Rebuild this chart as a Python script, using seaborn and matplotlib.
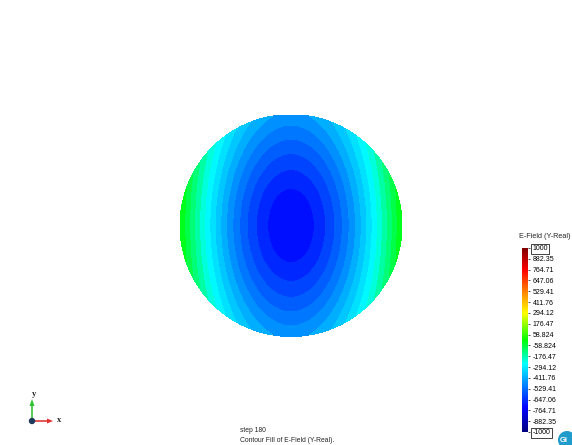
import numpy as np
import matplotlib
matplotlib.use("Agg")
import matplotlib.pyplot as plt
import matplotlib.tri as mtri
from matplotlib.colors import LinearSegmentedColormap, Normalize
from matplotlib.cm import ScalarMappable
from matplotlib.patches import Circle, FancyArrow
import seaborn as sns

# E-Field (Y-Real) on the circular cross-section, step 180.
# Radial profiles from the centre out to the wall, along x and along y.
radius_frac = [0.0, 0.1, 0.2, 0.3, 0.4, 0.5, 0.6, 0.7, 0.8, 0.9, 1.0]
field_along_x = [-730, -719, -686, -640, -581, -507, -421, -324, -220, -111, 0]
field_along_y = [-730, -725, -711, -690, -664, -634, -601, -565, -527, -488, -450]

# Result scale
legend_ticks = [1000, 882.35, 764.71, 647.06, 529.41, 411.76, 294.12, 176.47, 58.824,
                -58.824, -176.47, -294.12, -411.76, -529.41, -647.06, -764.71, -882.35, -1000]
legend_labels = ["1000", "882.35", "764.71", "647.06", "529.41", "411.76", "294.12",
                 "176.47", "58.824", "-58.824", "-176.47", "-294.12", "-411.76",
                 "-529.41", "-647.06", "-764.71", "-882.35", "-1000"]
step_label = "step 180"
view_label = "Contour Fill of E-Field (Y-Real)."
result_name = "E-Field (Y-Real)"

sns.set_style("white")
plt.rcParams["font.family"] = ["Liberation Sans", "DejaVu Sans"]

W, H = 572, 445
fig = plt.figure(figsize=(W / 100, H / 100), dpi=100)
fig.patch.set_facecolor("white")

# rainbow scale: navy - blue - cyan - green - yellow - red - dark red
vmin, vmax = -1000, 1000
nodes = [(-1000, (0.0, 0.0, 0.5)), (-735, (0.0, 0.0, 1.0)), (-260, (0.0, 1.0, 1.0)),
         (0, (0.0, 1.0, 0.0)), (294, (1.0, 1.0, 0.0)), (765, (1.0, 0.0, 0.0)),
         (1000, (0.5, 0.0, 0.0))]
cmap = LinearSegmentedColormap.from_list(
    "gid_rainbow", [((v - vmin) / (vmax - vmin), c) for v, c in nodes])
norm = Normalize(vmin, vmax)

# polar sample points of the section
r = np.array(radius_frac)
fx = np.array(field_along_x, dtype=float)
fy = np.array(field_along_y, dtype=float)
phi = np.linspace(0, 2 * np.pi, 180, endpoint=False)
xs, ys, zs = [0.0], [0.0], [fx[0]]
for ri, ax_v, ay_v in zip(r[1:], fx[1:], fy[1:]):
    xs.extend(ri * np.cos(phi))
    ys.extend(ri * np.sin(phi))
    zs.extend(ax_v * np.cos(phi) ** 2 + ay_v * np.sin(phi) ** 2)
tri = mtri.Triangulation(np.array(xs), np.array(ys))
zs = np.array(zs)

ax = fig.add_axes([180 / W, (H - 336.5) / H, 222 / W, 222 / H])
levels = np.linspace(zs.min(), zs.max(), 16)
ax.tricontourf(tri, zs, levels=levels, cmap=cmap, norm=norm, antialiased=False)
ax.set_xlim(-1, 1)
ax.set_ylim(-1, 1)
ax.set_aspect("equal")
ax.axis("off")

# colour scale
cax = fig.add_axes([522 / W, (H - 432) / H, 5.5 / W, 184 / H])
cb = fig.colorbar(ScalarMappable(norm=norm, cmap=cmap), cax=cax)
cb.outline.set_visible(False)
cb.set_ticks(legend_ticks)
cb.set_ticklabels(legend_labels)
cax.tick_params(axis="y", length=1.2, width=0.6, pad=2.5, labelsize=5.0,
                colors="#333333", labelcolor="black")
tl = cax.get_yticklabels()
for t in (tl[0], tl[-1]):
    t.set_bbox(dict(boxstyle="square,pad=0.18", fc="white", ec="#222222", lw=0.6))
fig.text(519 / W, 1 - 236 / H, result_name, fontsize=5.2, ha="left", va="center")

# captions
fig.text(240 / W, 1 - 430 / H, step_label, fontsize=4.9, ha="left", va="center")
fig.text(240 / W, 1 - 440 / H, view_label, fontsize=4.9, ha="left", va="center")

# overlay in pixel units for axis triad and logo
ov = fig.add_axes([0, 0, 1, 1], zorder=5)
ov.set_xlim(0, W)
ov.set_ylim(H, 0)
ov.axis("off")
ov.patch.set_alpha(0)
ox, oy = 32, 421
ov.add_patch(FancyArrow(ox, oy, 21, 0, width=1.6, head_width=5, head_length=6,
                        length_includes_head=True, color="#e03030", lw=0))
ov.add_patch(FancyArrow(ox, oy, 0, -22, width=1.6, head_width=5, head_length=7,
                        length_includes_head=True, color="#30c030", lw=0))
ov.add_patch(Circle((ox, oy), 3.2, color="#1e3a5a", lw=0))
ov.text(59, 419.5, "x", fontsize=6, weight="bold",
        family=["Liberation Serif", "DejaVu Serif"], ha="center", va="center")
ov.text(33.5, 394, "y", fontsize=6, weight="bold",
        family=["Liberation Serif", "DejaVu Serif"], ha="center", va="center")
ov.add_patch(Circle((567, 440), 9, color="#1f9ccc", lw=0))
ov.text(564, 441, "Gi", fontsize=5.5, color="white", weight="bold",
        ha="center", va="center")

fig.savefig("out.png", dpi=100, facecolor="white")
